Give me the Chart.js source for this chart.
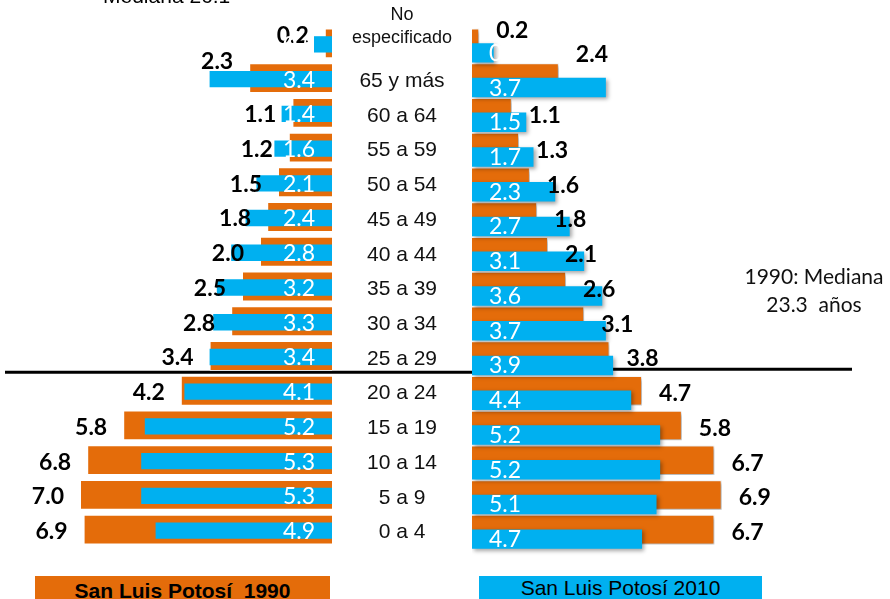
<!DOCTYPE html>
<html lang="es">
<head>
<meta charset="UTF-8">
<script src="https://cdn.jsdelivr.net/npm/chart.js"></script>
<style>
  body { margin: 0; background: #fff; }
  #wrap { position: relative; width: 890px; height: 599px; overflow: hidden; }
  #wrap canvas { position: absolute; left: 0; top: 0; }
  .leyenda {
    position: absolute; top: 576px; height: 30px;
    font-family: "Liberation Sans", Arial, sans-serif; font-size: 21px;
    text-align: center; line-height: 24px; color: #000; white-space: pre;
  }
  #ley1990 { left: 35px; width: 295px; background: #E46C0A; font-weight: bold; padding-top: 3px; height: 27px; }
  #ley2010 { left: 479px; width: 283px; background: #00B0F0; }
</style>
</head>
<body>
<div id="wrap">
  <canvas id="izq" width="890" height="599"></canvas>
  <canvas id="der" width="890" height="599"></canvas>
  <div class="leyenda" id="ley1990">San Luis Potosí  1990</div>
  <div class="leyenda" id="ley2010">San Luis Potosí 2010</div>
</div>
<script>
// grupos de edad, de arriba hacia abajo
const grupos = ['No especificado', '65 y más', '60 a 64', '55 a 59', '50 a 54', '45 a 49', '40 a 44',
                '35 a 39', '30 a 34', '25 a 29', '20 a 24', '15 a 19', '10 a 14', '5 a 9', '0 a 4'];

// porcentajes, lado izquierdo
const izq1990 = [0.2, 2.3, 1.1, 1.2, 1.5, 1.8, 2.0, 2.5, 2.8, 3.4, 4.2, 5.8, 6.8, 7.0, 6.9];
const izq2010 = [0.5, 3.4, 1.4, 1.6, 2.1, 2.4, 2.8, 3.2, 3.3, 3.4, 4.1, 5.2, 5.3, 5.3, 4.9];

// porcentajes, lado derecho
const der1990 = [0.2, 2.4, 1.1, 1.3, 1.6, 1.8, 2.1, 2.6, 3.1, 3.8, 4.7, 5.8, 6.7, 6.9, 6.7];
const der2010 = [0.6, 3.7, 1.5, 1.7, 2.3, 2.7, 3.1, 3.6, 3.7, 3.9, 4.4, 5.2, 5.2, 5.1, 4.7];

const NARANJA = '#E46C0A';
const AZUL = '#00B0F0';
const FUENTE_NUM = 'Lato, "Open Sans", sans-serif';
const FUENTE_TXT = '"Liberation Sans", Arial, sans-serif';

// mueve la serie azul hacia abajo y opcionalmente pone sombra
function desplazar(dy, sombra) {
    return {
        id: 'desplazar',
        beforeDatasetDraw(chart, args) {
            const ctx = chart.ctx;
            ctx.save();
            if (sombra) {
                ctx.shadowColor = 'rgba(0,0,0,0.35)';
                ctx.shadowBlur = 4;
                ctx.shadowOffsetX = 2;
                ctx.shadowOffsetY = 2;
            }
            if (args.index === 0) ctx.translate(0, dy);
        },
        afterDatasetDraw(chart) {
            chart.ctx.restore();
        }
    };
}

function limiteMediana(y) {
    return (y.getPixelForValue(9) + y.getPixelForValue(10)) / 2;
}

// etiquetas y linea del lado izquierdo
const textoIzq = {
    id: 'textoIzq',
    beforeDatasetsDraw(chart) {
        const { ctx, scales: { y } } = chart;
        const yb = limiteMediana(y);
        ctx.save();
        ctx.strokeStyle = '#000';
        ctx.lineWidth = 3;
        ctx.beginPath();
        ctx.moveTo(5, yb - 1);
        ctx.lineTo(472, yb - 1);
        ctx.stroke();
        ctx.restore();
    },
    afterDatasetsDraw(chart) {
        const { ctx, scales: { x, y } } = chart;
        ctx.save();
        ctx.textBaseline = 'middle';

        // grupos en el centro
        ctx.fillStyle = '#111';
        ctx.textAlign = 'center';
        grupos.forEach((g, i) => {
            const yy = y.getPixelForValue(i);
            if (i === 0) {
                ctx.font = '18px ' + FUENTE_TXT;
                ctx.fillText('No', 402, 15);
                ctx.fillText('especificado', 402, 38);
            } else {
                ctx.font = '21px ' + FUENTE_TXT;
                ctx.fillText(g, 402, yy + 3);
            }
        });

        // valores 1990
        const ajuste = { 0: -10, 1: -19 };
        ctx.font = 'bold 23px ' + FUENTE_NUM;
        ctx.fillStyle = '#000';
        ctx.textAlign = 'right';
        izq1990.forEach((v, i) => {
            ctx.fillText(v.toFixed(1), x.getPixelForValue(v) - 16, y.getPixelForValue(i) + 2 + (ajuste[i] || 0));
        });

        // valores 2010
        ctx.font = '23px ' + FUENTE_NUM;
        ctx.fillStyle = '#fff';
        izq2010.forEach((v, i) => {
            ctx.fillText(v.toFixed(1), x.getPixelForValue(0) - 17, y.getPixelForValue(i) + 2);
        });

        ctx.font = '21px ' + FUENTE_TXT;
        ctx.fillStyle = '#000';
        ctx.textAlign = 'left';
        ctx.textBaseline = 'alphabetic';
        ctx.fillText('Mediana 26.1', 103, 3);
        ctx.restore();
    }
};

// etiquetas y linea del lado derecho
const textoDer = {
    id: 'textoDer',
    beforeDatasetsDraw(chart) {
        const { ctx, scales: { y } } = chart;
        const yb = limiteMediana(y);
        ctx.save();
        ctx.strokeStyle = '#000';
        ctx.lineWidth = 3;
        ctx.beginPath();
        ctx.moveTo(472, yb - 4);
        ctx.lineTo(852, yb - 4);
        ctx.stroke();
        ctx.restore();
    },
    afterDatasetsDraw(chart) {
        const { ctx, scales: { x, y } } = chart;
        ctx.save();
        ctx.textBaseline = 'middle';

        const ajuste = { 0: -16, 1: -27 };
        ctx.font = 'bold 23px ' + FUENTE_NUM;
        ctx.fillStyle = '#000';
        ctx.textAlign = 'left';
        der1990.forEach((v, i) => {
            ctx.fillText(v.toFixed(1), x.getPixelForValue(v) + 17, y.getPixelForValue(i) + 3 + (ajuste[i] || 0));
        });

        ctx.font = '23px ' + FUENTE_NUM;
        ctx.fillStyle = '#fff';
        der2010.forEach((v, i) => {
            ctx.fillText(v.toFixed(1), x.getPixelForValue(0) + 17, y.getPixelForValue(i) + 10);
        });

        ctx.font = '21px ' + FUENTE_NUM;
        ctx.fillStyle = '#111';
        ctx.textAlign = 'center';
        ctx.fillText('1990: Mediana', 814, 277);
        ctx.fillText('23.3  años', 814, 305);
        ctx.restore();
    }
};

function opciones(pad, max, reverse) {
    return {
        indexAxis: 'y',
        responsive: false,
        animation: false,
        layout: { padding: pad },
        plugins: { legend: { display: false }, tooltip: { enabled: false } },
        scales: {
            x: { type: 'linear', min: 0, max: max, reverse: reverse, display: false },
            y: { type: 'category', display: false, offset: true }
        }
    };
}

new Chart(document.getElementById('izq'), {
    type: 'bar',
    data: {
        labels: grupos,
        datasets: [
            { data: izq2010, backgroundColor: AZUL, grouped: false, categoryPercentage: 1, barPercentage: 0.47 },
            { data: izq1990, backgroundColor: NARANJA, grouped: false, categoryPercentage: 1, barPercentage: 0.86,
              borderColor: 'rgba(255,255,255,0.5)', borderWidth: 1 }
        ]
    },
    options: opciones({ left: 8, right: 558, top: 26, bottom: 52 }, 9, true),
    plugins: [desplazar(1, false), textoIzq]
});

new Chart(document.getElementById('der'), {
    type: 'bar',
    data: {
        labels: grupos,
        datasets: [
            { data: der2010, backgroundColor: AZUL, grouped: false, categoryPercentage: 1, barPercentage: 0.56 },
            { data: der1990, backgroundColor: NARANJA, grouped: false, categoryPercentage: 1, barPercentage: 0.85,
              borderColor: '#fff', borderWidth: 1, borderSkipped: 'left' }
        ]
    },
    options: opciones({ left: 472, right: 20, top: 26, bottom: 52 }, 11, false),
    plugins: [desplazar(9.5, true), textoDer]
});
</script>
</body>
</html>
